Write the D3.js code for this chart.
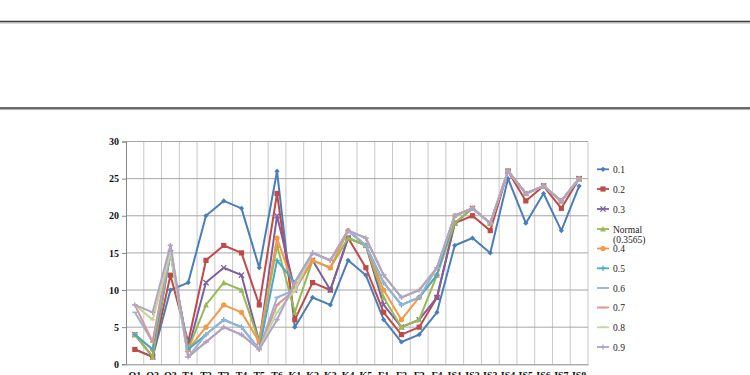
<!DOCTYPE html>
<html>
<head>
<meta charset="utf-8">
<script src="https://cdn.jsdelivr.net/npm/d3@7"></script>
<style>
  html, body { margin: 0; padding: 0; background: #ffffff; }
  svg { display: block; }
</style>
</head>
<body>
<svg id="chart" width="750" height="375"></svg>
<script>
const categories = ["O1","O2","O3","T1","T2","T3","T4","T5","T6","K1","K2","K3","K4","K5","F1","F2","F3","F4","IS1","IS2","IS3","IS4","IS5","IS6","IS7","IS8"];
const seriesNames = ["0.1","0.2","0.3","Normal (0.3565)","0.4","0.5","0.6","0.7","0.8","0.9"];
const s01 = [2,1,10,11,20,22,21,13,26,5,9,8,14,12,6,3,4,7,16,17,15,25,19,23,18,24];
const s02 = [2,1,12,3,14,16,15,8,23,6,11,10,17,13,7,4,5,9,19,20,18,26,22,24,21,25];
const s03 = [4,1,15,2,11,13,12,3,20,10,14,10,17,16,8,5,6,9,19,21,19,26,23,24,22,25];
const sNormal = [4,1,15,2,8,11,10,3,16,7,14,13,17,16,9,5,6,12,19,21,19,26,23,24,22,25];
const s04 = [4,2,15,2,5,8,7,3,17,10,14,13,18,16,10,6,9,12,20,21,19,26,23,24,22,25];
const s05 = [4,2,15,2,4,6,5,2,14,11,15,14,18,16,11,8,9,12,20,21,19,26,23,24,22,25];
const s06 = [7,3,15,1,4,6,5,2,9,10,15,14,18,16,11,8,9,13,20,21,19,26,23,24,22,25];
const s07 = [8,3,16,1,3,5,4,2,8,10,15,14,18,17,12,9,10,13,20,21,19,26,23,24,22,25];
const s08 = [8,6,15,1,3,5,4,2,7,10,15,14,18,17,12,9,10,13,20,21,19,26,23,24,22,25];
const s09 = [8,7,16,1,3,5,4,2,6,11,15,14,18,17,12,9,10,13,20,21,19,26,23,24,22,25];
const yTicks = [0,5,10,15,20,25,30];
const colors = ["#4a7ebb","#be4b48","#7d60a0","#98b954","#f79646","#46aac5","#95b3d7","#d99694","#c3d69b","#b3a2c7"];
const markers = ["diamond","square","cross","triangle","circle","plus","dash","dash","dash","plus"];

const seriesValues = [s01,s02,s03,sNormal,s04,s05,s06,s07,s08,s09];

const svg = d3.select("#chart");

// top rules
[21.5, 108].forEach(yy => {
  svg.append("line").attr("x1",0).attr("x2",750).attr("y1",yy).attr("y2",yy)
    .attr("stroke","#3a3a3a").attr("stroke-width",1.6);
  svg.append("line").attr("x1",0).attr("x2",750).attr("y1",yy+1.5).attr("y2",yy+1.5)
    .attr("stroke","#9a9a9a").attr("stroke-width",0.8);
});

const pLeft = 126, pRight = 588, pTop = 141.5, pBottom = 364.3;
const x = d3.scaleBand().domain(categories).range([pLeft, pRight]).padding(0);
const y = d3.scaleLinear().domain([0,30]).range([pBottom, pTop]);

const g = svg.append("g");

// vertical grid lines at band boundaries
const bounds = categories.map(c => x(c)).concat([pRight]);
g.selectAll("line.vg").data(bounds.slice(1)).enter().append("line")
  .attr("x1", d => d).attr("x2", d => d).attr("y1", pTop).attr("y2", pBottom)
  .attr("stroke", "#c8c8c8").attr("stroke-width", 1);

// horizontal grid lines
g.selectAll("line.hg").data(yTicks.slice(1)).enter().append("line")
  .attr("x1", pLeft).attr("x2", pRight).attr("y1", d => y(d)).attr("y2", d => y(d))
  .attr("stroke", "#a6a6a6").attr("stroke-width", 1);

// y axis
const yAxis = d3.axisLeft(y).tickValues(yTicks).tickSize(4).tickPadding(3);
const ya = g.append("g").attr("transform", `translate(${pLeft},0)`).call(yAxis);
ya.select(".domain").attr("stroke", "#868686");
ya.selectAll(".tick line").attr("stroke", "#868686");
ya.selectAll("text").attr("font-family", "'Liberation Serif', serif")
  .attr("font-size", 10).attr("font-weight", "bold").attr("fill", "#111");

// x axis
const xAxis = d3.axisBottom(x).tickSize(0).tickPadding(8);
const xa = g.append("g").attr("transform", `translate(0,${pBottom})`).call(xAxis);
xa.select(".domain").attr("stroke", "#868686");
xa.selectAll("text").attr("font-family", "'Liberation Serif', serif")
  .attr("font-size", 10).attr("font-weight", "bold").attr("fill", "#111");

function drawMarker(sel, type, color, cx, cy) {
  const s = 2.6;
  if (type === "diamond") {
    sel.append("path").attr("d", `M${cx},${cy-s}L${cx+s},${cy}L${cx},${cy+s}L${cx-s},${cy}Z`).attr("fill", color);
  } else if (type === "square") {
    sel.append("rect").attr("x", cx-s).attr("y", cy-s).attr("width", 2*s).attr("height", 2*s).attr("fill", color);
  } else if (type === "triangle") {
    sel.append("path").attr("d", `M${cx},${cy-s-0.5}L${cx+s+0.3},${cy+s}L${cx-s-0.3},${cy+s}Z`).attr("fill", color);
  } else if (type === "circle") {
    sel.append("circle").attr("cx", cx).attr("cy", cy).attr("r", s).attr("fill", color);
  } else if (type === "cross") {
    sel.append("path").attr("d", `M${cx-s},${cy-s}L${cx+s},${cy+s}M${cx-s},${cy+s}L${cx+s},${cy-s}`).attr("stroke", color).attr("stroke-width", 1.3);
  } else if (type === "plus") {
    sel.append("path").attr("d", `M${cx-s},${cy}L${cx+s},${cy}M${cx},${cy-s}L${cx},${cy+s}`).attr("stroke", color).attr("stroke-width", 1.3);
  } else if (type === "dash") {
    sel.append("path").attr("d", `M${cx-s},${cy}L${cx+s},${cy}`).attr("stroke", color).attr("stroke-width", 1.5);
  }
}

const line = d3.line().x((d,i) => x(categories[i]) + x.bandwidth()/2).y(d => y(d));

seriesValues.forEach((vals, si) => {
  const sg = g.append("g");
  sg.append("path").datum(vals).attr("d", line).attr("fill", "none")
    .attr("stroke", colors[si]).attr("stroke-width", 2).attr("stroke-linejoin", "round");
  vals.forEach((v, i) => drawMarker(sg, markers[si], colors[si], x(categories[i]) + x.bandwidth()/2, y(v)));
});

// legend
const legendY = [169.3, 189, 209, 229, 248.5, 268.3, 288, 307.5, 327.3, 347];
const lg = svg.append("g");
seriesNames.forEach((name, si) => {
  const ly = legendY[si];
  lg.append("line").attr("x1", 597).attr("x2", 609).attr("y1", ly).attr("y2", ly)
    .attr("stroke", colors[si]).attr("stroke-width", 1.8);
  drawMarker(lg, markers[si], colors[si], 603, ly);
  const t = lg.append("text").attr("x", 613).attr("y", ly + 3.5)
    .attr("font-family", "'Liberation Serif', serif").attr("font-size", 9.5).attr("fill", "#222");
  if (name.startsWith("Normal")) {
    t.append("tspan").attr("x", 613).text("Normal");
    t.append("tspan").attr("x", 613).attr("dy", 10.5).text("(0.3565)");
  } else {
    t.text(name);
  }
});
</script>
</body>
</html>
